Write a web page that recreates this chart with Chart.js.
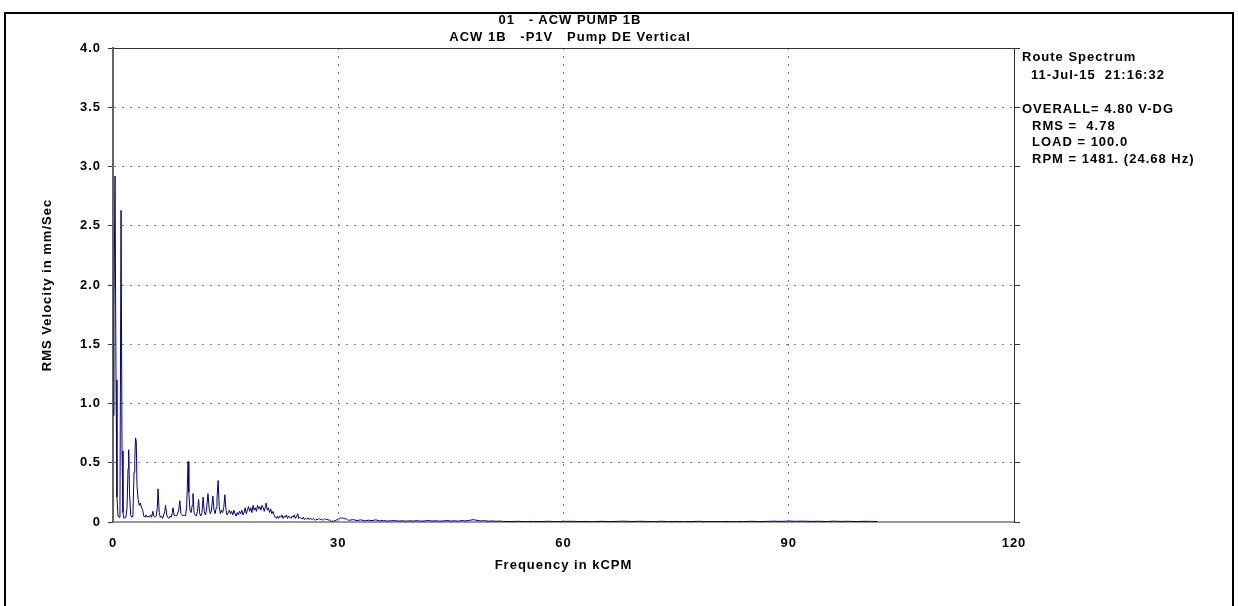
<!DOCTYPE html>
<html>
<head>
<meta charset="utf-8">
<script src="https://cdn.jsdelivr.net/npm/chart.js@4.4.1/dist/chart.umd.min.js"></script>
<style>
    body { margin: 0; background: #fff; }
    #wrap { position: relative; width: 1238px; height: 606px; overflow: hidden; }
    #grafico { position: absolute; left: 0; top: 0; }
    #marco { position: absolute; left: 4px; top: 12px; width: 1226px; height: 640px; border: 2px solid #000; }
    .txt { position: absolute; font: bold 13px "Liberation Sans", Arial, sans-serif; letter-spacing: 1px;
           white-space: pre; line-height: 14px; color: #000; }
    .centro { transform: translateX(-50%); }
</style>
</head>
<body>
<div id="wrap">
    <canvas id="grafico" width="1238" height="606"></canvas>
    <div id="marco"></div>

    <div class="txt centro" style="left:570px; top:13px;">01   - ACW PUMP 1B</div>
    <div class="txt centro" style="left:570px; top:30px;">ACW 1B   -P1V   Pump DE Vertical</div>

    <div class="txt" style="left:1022px; top:50px;">Route Spectrum</div>
    <div class="txt" style="left:1031px; top:68px;">11-Jul-15  21:16:32</div>
    <div class="txt" style="left:1022px; top:102px;">OVERALL= 4.80 V-DG</div>
    <div class="txt" style="left:1032px; top:119px;">RMS =  4.78</div>
    <div class="txt" style="left:1032px; top:135px;">LOAD = 100.0</div>
    <div class="txt" style="left:1032px; top:152px;">RPM = 1481. (24.68 Hz)</div>
</div>

<script>
// Espectro 0 - 15.5 kCPM
const lowFreq = [
    0, 0.13, 0.27, 0.4, 0.53, 0.67, 0.8, 0.93, 1.07, 1.2,
    1.33, 1.47, 1.6, 1.73, 1.87, 2.0, 2.09, 2.2, 2.35, 2.5,
    2.65, 2.8, 2.9, 3.0, 3.1, 3.2, 3.35, 3.5, 3.65, 3.8,
    3.95, 4.1, 4.25, 4.4, 4.55, 4.7, 4.85, 5.0, 5.15, 5.3,
    5.45, 5.6, 5.75, 5.9, 6.0, 6.15, 6.3, 6.45, 6.6, 6.75,
    6.9, 7.0, 7.15, 7.3, 7.45, 7.6, 7.75, 7.9, 8.0, 8.15,
    8.3, 8.45, 8.6, 8.75, 8.9, 9.05, 9.2, 9.35, 9.5, 9.65,
    9.8, 9.9, 10.0, 10.1, 10.25, 10.4, 10.55, 10.65, 10.8, 10.95,
    11.1, 11.25, 11.4, 11.55, 11.7, 11.85, 12.0, 12.15, 12.3, 12.45,
    12.65, 12.8, 12.95, 13.1, 13.3, 13.45, 13.6, 13.75, 13.85, 14.0,
    14.15, 14.3, 14.45, 14.6, 14.75, 14.9, 15.05, 15.2, 15.35, 15.5
];
const lowAmp = [
    0.9, 1.8, 2.92, 1.2, 0.21, 0.05, 0.04, 0.15, 2.63, 0.6,
    0.08, 0.03, 0.04, 0.05, 0.12, 0.45, 0.61, 0.25, 0.06, 0.04,
    0.05, 0.42, 0.52, 0.71, 0.68, 0.3, 0.19, 0.14, 0.16, 0.12,
    0.1, 0.05, 0.04, 0.06, 0.04, 0.05, 0.04, 0.06, 0.04, 0.09,
    0.05, 0.04, 0.05, 0.12, 0.28, 0.08, 0.04, 0.05, 0.03, 0.06,
    0.09, 0.14, 0.06, 0.04, 0.03, 0.05, 0.04, 0.08, 0.12, 0.05,
    0.06, 0.05, 0.07, 0.1, 0.18, 0.07, 0.06, 0.05, 0.06, 0.05,
    0.12, 0.3, 0.51, 0.25, 0.1, 0.08, 0.14, 0.24, 0.08, 0.06,
    0.05, 0.09, 0.19, 0.07, 0.05, 0.08, 0.21, 0.09, 0.06, 0.1,
    0.24, 0.12, 0.07, 0.09, 0.22, 0.1, 0.07, 0.12, 0.2, 0.35,
    0.13, 0.07, 0.1, 0.08, 0.12, 0.23, 0.1, 0.06, 0.08, 0.1
];

// Espectro 15.5 - 31.5 kCPM
const midFreq = [
    15.65, 15.8, 15.95, 16.1, 16.25, 16.4, 16.55, 16.7, 16.85, 17.0,
    17.15, 17.3, 17.45, 17.6, 17.75, 17.9, 18.05, 18.2, 18.35, 18.5,
    18.65, 18.8, 18.95, 19.1, 19.25, 19.4, 19.55, 19.7, 19.85, 20.0,
    20.15, 20.3, 20.4, 20.55, 20.7, 20.85, 21.0, 21.15, 21.3, 21.45,
    21.6, 21.75, 21.9, 22.05, 22.2, 22.35, 22.5, 22.65, 22.8, 22.95,
    23.1, 23.25, 23.4, 23.55, 23.7, 23.85, 24.0, 24.15, 24.3, 24.45,
    24.6, 24.75, 24.9, 25.05, 25.2, 25.35, 25.5, 25.65, 25.8, 25.95,
    26.1, 26.25, 26.4, 26.55, 26.7, 26.85, 27.0, 27.15, 27.3, 27.45,
    27.6, 27.75, 27.9, 28.05, 28.2, 28.35, 28.5, 28.65, 28.8, 28.95,
    29.1, 29.25, 29.4, 29.55, 29.7, 29.85, 30.0, 30.15, 30.3, 30.45,
    30.6, 30.75, 30.9, 31.05, 31.2, 31.35
];
const midAmp = [
    0.07, 0.09, 0.06, 0.1, 0.07, 0.05, 0.08, 0.06, 0.09, 0.07,
    0.1, 0.06, 0.08, 0.12, 0.07, 0.1, 0.13, 0.09, 0.12, 0.08,
    0.14, 0.1, 0.12, 0.09, 0.14, 0.11, 0.13, 0.1, 0.14, 0.12,
    0.09, 0.13, 0.16, 0.1, 0.12, 0.08, 0.11, 0.07, 0.09, 0.06,
    0.04, 0.03, 0.05, 0.03, 0.05, 0.04, 0.06, 0.03, 0.05, 0.04,
    0.06, 0.03, 0.05, 0.04, 0.03, 0.05, 0.04, 0.06, 0.03, 0.05,
    0.07, 0.03, 0.04, 0.03, 0.025, 0.04, 0.02, 0.03, 0.025, 0.035,
    0.02, 0.03, 0.025, 0.02, 0.03, 0.02, 0.015, 0.025, 0.02, 0.03,
    0.02, 0.025, 0.015, 0.02, 0.03, 0.02, 0.025, 0.015, 0.02, 0.01,
    0.005, 0.01, 0.005, 0.01, 0.015, 0.02, 0.025, 0.03, 0.035, 0.03,
    0.035, 0.03, 0.025, 0.03, 0.02, 0.015
];

// Cola del espectro hasta ~102 kCPM
const tailFreq = [
    31.5, 32, 32.5, 33, 33.5, 34, 34.5, 35, 35.5, 36,
    36.5, 37, 37.5, 38, 38.5, 39, 39.5, 40, 40.5, 41,
    41.5, 42, 42.5, 43, 43.5, 44, 44.5, 45, 45.5, 46,
    46.5, 47, 47.5, 48, 48.5, 49, 49.5, 50, 50.5, 51,
    51.5, 52, 53, 54, 55, 56, 57, 58, 59, 60,
    61, 62, 63, 64, 65, 66, 67, 68, 69, 70,
    71, 72, 73, 74, 75, 76, 77, 78, 79, 80,
    81, 82, 83, 84, 85, 86, 87, 88, 89, 90,
    91, 92, 93, 94, 95, 96, 97, 98, 99, 100,
    101, 101.8
];
const tailAmp = [
    0.015, 0.02, 0.012, 0.018, 0.01, 0.015, 0.012, 0.018, 0.01, 0.012,
    0.008, 0.01, 0.012, 0.008, 0.01, 0.007, 0.01, 0.008, 0.011, 0.007,
    0.009, 0.012, 0.008, 0.01, 0.007, 0.009, 0.012, 0.008, 0.01, 0.007,
    0.012, 0.009, 0.014, 0.02, 0.013, 0.009, 0.011, 0.007, 0.009, 0.006,
    0.008, 0.005, 0.004, 0.006, 0.003, 0.005, 0.004, 0.006, 0.003, 0.005,
    0.006, 0.004, 0.005, 0.003, 0.006, 0.004, 0.005, 0.007, 0.004, 0.006,
    0.005, 0.003, 0.006, 0.004, 0.005, 0.003, 0.004, 0.006, 0.003, 0.004,
    0.003, 0.005, 0.003, 0.004, 0.006, 0.004, 0.005, 0.007, 0.005, 0.008,
    0.006, 0.007, 0.005, 0.006, 0.004, 0.007, 0.005, 0.006, 0.004, 0.006,
    0.005, 0.004
];

// Ejes
const xTicks = [0, 30, 60, 90, 120];
const yTicks = [0, 0.5, 1.0, 1.5, 2.0, 2.5, 3.0, 3.5, 4.0];

const freq = lowFreq.concat(midFreq, tailFreq);
const amp = lowAmp.concat(midAmp, tailAmp);
const puntos = freq.map((f, i) => ({ x: f, y: amp[i] }));

const fuente = { family: '"Liberation Sans", Arial, sans-serif', size: 13, weight: 'bold' };

// El texto del canvas con el mismo espaciado que el HTML
const espaciado = {
    id: 'espaciado',
    beforeDraw(chart) {
        chart.ctx.letterSpacing = '1px';
    }
};

window.onload = function () {

    const ctx = document.getElementById('grafico');

    new Chart(ctx, {
        type: 'line',
        data: {
            datasets: [{
                data: puntos,
                borderColor: '#000080',
                borderWidth: 1,
                pointRadius: 0,
                tension: 0
            }]
        },
        options: {
            responsive: false,
            animation: false,
            layout: { padding: { left: 0, top: 48, right: 218, bottom: 0 } },
            plugins: {
                legend: { display: false },
                tooltip: { enabled: false }
            },
            scales: {
                x: {
                    type: 'linear',
                    min: 0,
                    max: 120,
                    afterBuildTicks: s => { s.ticks = xTicks.map(v => ({ value: v })); },
                    afterFit: s => { s.height = 84; },
                    ticks: { color: '#000', font: fuente, padding: 14 },
                    grid: { color: '#808080', drawTicks: false },
                    border: { color: '#999', width: 2, dash: [2, 6] },
                    title: {
                        display: true,
                        text: 'Frequency in kCPM',
                        color: '#000',
                        font: fuente,
                        padding: { bottom: 33 }
                    }
                },
                x2: {
                    type: 'linear',
                    position: 'top',
                    min: 0,
                    max: 120,
                    afterFit: s => { s.height = 0; },
                    ticks: { display: false },
                    grid: { display: false },
                    border: { color: '#333', width: 1 }
                },
                y: {
                    min: 0,
                    max: 4,
                    afterBuildTicks: s => { s.ticks = yTicks.map(v => ({ value: v })); },
                    afterFit: s => { s.width = 113; },
                    ticks: {
                        color: '#000',
                        font: fuente,
                        padding: 7,
                        callback: v => v === 0 ? '0' : v.toFixed(1)
                    },
                    grid: { color: '#808080', tickLength: 5, tickColor: '#333', tickBorderDash: [] },
                    border: { color: '#666', width: 2, dash: [2, 6] },
                    title: {
                        display: true,
                        text: 'RMS Velocity in mm/Sec',
                        color: '#000',
                        font: fuente,
                        padding: { top: 40 }
                    }
                },
                y2: {
                    position: 'right',
                    min: 0,
                    max: 4,
                    afterBuildTicks: s => { s.ticks = yTicks.map(v => ({ value: v })); },
                    afterFit: s => { s.width = 6; },
                    ticks: { display: false },
                    grid: { drawOnChartArea: false, tickLength: 6, tickColor: '#333', tickBorderDash: [] },
                    border: { color: '#333', width: 1 }
                }
            }
        },
        plugins: [espaciado]
    });

};
</script>
</body>
</html>
